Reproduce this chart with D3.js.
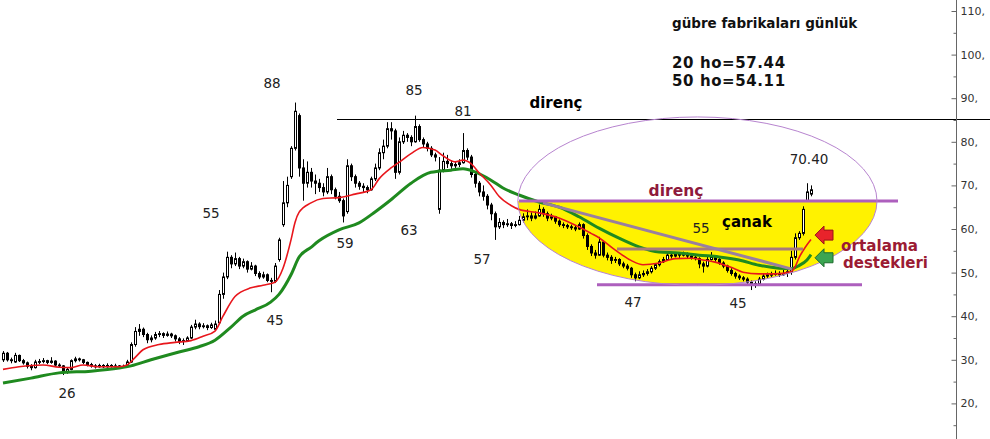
<!DOCTYPE html>
<html><head><meta charset="utf-8">
<script src="https://cdn.jsdelivr.net/npm/d3@7"></script>
<style>html,body{margin:0;padding:0;background:#fff;overflow:hidden}svg{display:block}</style>
</head><body><svg id="c" width="990" height="439"></svg>
<script>
// ---- data ----
const opens=[30.0,31.5,30.0,29.5,31.0,29.8,29.3,28.5,28.2,29.5,
29.6,29.8,29.4,29.7,28.8,28.6,27.3,27.8,29.8,30.2,
30.0,29.4,28.9,28.6,28.4,28.7,28.4,28.7,28.5,28.6,
28.3,28.5,29.5,33.5,36.5,37.0,35.8,34.6,35.0,35.8,
36.0,35.6,35.9,35.5,34.8,34.2,34.4,35.0,37.5,38.2,
37.6,37.8,37.4,37.0,38.5,45.0,49.0,53.5,52.0,53.2,
51.5,52.5,50.8,51.5,49.8,49.0,49.5,48.2,48.0,53.0,
61.0,66.0,72.0,78.5,86.0,74.0,70.5,73.0,71.0,70.5,
69.5,68.5,72.0,69.0,67.5,66.5,64.0,74.5,72.0,70.5,
69.8,69.5,69.0,71.5,74.0,77.5,79.0,83.0,82.5,73.0,
80.0,81.5,81.0,80.0,83.5,80.5,79.5,78.5,77.0,64.5,
73.5,75.5,75.0,74.5,74.8,75.2,78.0,76.5,72.5,70.5,
68.5,67.5,65.5,63.5,60.5,61.5,61.0,61.2,60.8,61.0,
62.0,62.8,63.0,62.5,63.0,64.5,63.5,62.5,62.8,61.8,
61.0,60.8,60.5,60.3,60.0,61.0,58.5,56.0,54.5,54.0,
57.0,54.0,53.5,52.8,53.0,52.0,51.5,51.0,49.5,48.8,
49.5,49.8,50.2,51.0,51.8,52.5,53.0,54.0,53.8,54.2,
54.0,54.3,53.8,53.5,53.2,52.0,51.5,53.0,53.5,53.0,
52.2,51.5,50.5,49.8,49.2,48.8,48.5,47.8,47.2,47.5,
48.5,49.2,49.5,49.6,49.8,49.5,49.8,50.2,53.5,58.0,
59.0,66.5,68.0];
const highs=[32.0,31.8,30.5,31.6,31.2,30.2,29.6,29.0,30.0,30.2,
30.4,30.0,30.6,29.9,29.2,28.8,28.2,30.1,30.7,30.5,
30.2,29.6,29.3,29.0,29.1,29.0,29.2,29.0,29.1,28.8,
28.9,30.0,34.0,37.5,38.2,37.4,36.2,35.6,36.4,36.6,
36.3,36.5,36.2,35.8,35.2,34.9,35.4,38.0,39.2,38.6,
38.4,38.1,38.5,39.0,46.0,50.0,54.8,54.0,54.6,53.6,
53.2,52.8,52.4,51.8,50.3,50.2,49.8,48.8,52.2,58.0,
71.0,72.0,79.0,89.0,86.5,76.0,75.5,74.0,72.5,71.5,
70.5,74.0,72.5,69.5,68.5,67.0,76.0,75.0,72.5,71.0,
70.5,70.0,72.0,75.0,78.5,80.5,84.5,84.5,83.0,81.0,
82.5,82.0,81.5,86.0,84.0,81.0,80.0,79.0,77.5,76.5,
77.5,77.0,75.8,75.5,76.0,82.0,78.5,77.0,73.0,71.0,
70.0,68.0,66.0,64.0,62.5,62.0,62.3,61.6,61.8,63.0,
63.6,64.5,63.8,64.0,65.6,65.0,64.0,63.5,63.0,62.2,
61.5,61.2,61.0,60.8,61.5,61.3,59.0,56.5,55.2,58.2,
57.3,54.6,54.0,53.6,53.3,52.5,52.0,51.3,50.0,50.3,
50.5,50.8,51.5,52.2,53.0,53.6,54.7,54.5,54.7,54.5,
54.8,54.6,54.2,54.0,53.5,52.5,53.6,54.7,53.8,53.4,
52.6,51.8,51.0,50.2,49.6,49.2,48.9,48.2,48.0,49.0,
49.7,50.0,50.2,50.5,50.3,50.6,50.8,55.0,59.0,59.5,
65.2,70.5,70.0];
const lows=[29.5,29.6,29.2,29.3,29.5,28.9,28.0,27.6,28.0,29.0,
29.2,29.0,29.1,28.5,28.2,26.5,26.8,27.6,29.4,29.6,
29.0,28.5,28.2,28.0,28.2,28.1,28.2,28.2,28.3,28.0,
28.1,28.3,29.3,33.0,35.5,35.2,33.8,34.0,34.6,35.2,
35.0,35.3,35.0,34.2,33.6,33.4,34.1,34.8,37.0,37.0,
37.2,36.8,37.1,36.8,38.2,44.0,48.5,51.0,51.5,50.8,
51.0,50.0,50.5,49.2,48.5,48.6,47.8,45.5,47.6,52.5,
60.5,65.0,71.5,78.0,72.0,66.5,69.5,69.5,68.0,68.5,
67.5,68.0,68.0,66.8,66.0,61.5,63.5,71.0,69.5,69.0,
68.5,68.2,68.8,71.0,73.5,76.0,78.5,80.5,71.5,72.5,
79.5,80.0,79.0,79.8,80.0,78.8,77.8,76.5,75.5,63.5,
73.0,74.0,73.8,74.0,74.2,75.0,75.8,71.8,69.5,67.5,
66.5,64.5,62.0,57.5,60.0,60.2,60.5,60.0,60.4,60.8,
61.5,62.0,61.8,62.2,62.8,62.8,61.8,62.0,61.2,60.5,
60.2,60.0,59.8,59.5,59.8,57.8,55.2,53.8,53.2,53.8,
53.5,52.8,52.0,52.2,51.5,51.0,50.5,48.8,48.0,48.5,
49.0,49.3,49.8,50.6,51.4,52.2,52.8,53.2,53.5,53.4,
53.7,53.3,53.0,52.8,51.0,50.0,51.2,52.8,52.5,51.8,
51.0,50.0,49.3,48.6,48.3,48.0,47.2,46.0,46.5,47.2,
48.2,48.8,49.0,49.3,49.0,49.3,49.0,49.5,53.0,57.5,
58.5,66.3,67.5];
const closes=[31.5,30.0,29.8,31.0,29.8,29.3,28.5,28.2,29.5,29.6,
29.8,29.4,29.7,28.8,28.6,27.3,27.8,29.8,30.2,30.0,
29.4,28.9,28.6,28.4,28.7,28.4,28.7,28.5,28.6,28.3,
28.5,29.5,33.5,36.5,37.0,35.8,34.6,35.0,35.8,36.0,
35.6,35.9,35.5,34.8,34.2,34.4,35.0,37.5,38.2,37.6,
37.8,37.4,38.0,38.2,45.0,49.0,53.5,52.0,53.2,51.5,
52.5,50.8,51.5,49.8,49.0,49.5,48.2,48.0,51.5,57.5,
66.0,70.0,78.5,87.0,74.0,70.5,73.0,71.0,70.5,69.5,
68.5,72.0,69.0,67.5,66.5,63.0,74.5,72.0,70.5,69.8,
69.5,69.0,71.5,74.0,77.5,79.0,83.0,82.5,73.0,80.0,
81.5,81.0,80.0,83.5,80.5,79.5,78.5,77.0,76.5,73.5,
75.5,75.0,74.5,74.8,75.2,78.0,76.5,72.5,70.5,68.5,
67.5,65.5,63.5,60.5,61.5,61.0,61.2,60.8,61.0,62.0,
62.8,63.0,62.5,63.0,64.5,63.5,62.5,62.8,61.8,61.0,
60.8,60.5,60.3,60.0,61.0,58.5,56.0,54.5,54.0,57.0,
54.0,53.5,52.8,53.0,52.0,51.5,51.0,49.5,48.8,49.5,
49.8,50.2,51.0,51.8,52.5,53.0,54.0,53.8,54.2,54.0,
54.3,53.8,53.5,53.2,52.0,51.5,53.0,53.5,53.0,52.2,
51.5,50.5,49.8,49.2,48.8,48.5,47.8,47.2,47.5,48.5,
49.2,49.5,49.6,49.8,49.5,49.8,50.2,53.5,58.0,59.0,
64.5,68.5,69.0];

// 20-bar average (red) read at bar positions
const ma20Idx=[0,4,10,14,17,20,24,29,31,33,35,39,43,47,50,53,55,58,62,65,68,70,72,73,74,77,80,84,88,92,94,97,99,102,105,108,110,113,115,117,119,122,124,127,129,134,139,143,147,149,153,157,160,164,168,172,175,178,182,185,189,193,197,198,199,200,201,202];
const ma20Val=[27.8,28.4,28.8,28.3,28.2,28.8,28.4,28.4,28.8,30.5,32.3,33.5,34.0,34.4,35.4,36.6,40.0,44.5,46.5,47.1,47.8,51.0,57.5,61.5,63.8,66.0,67.0,67.2,68.0,69.0,71.5,74.0,75.3,77.3,78.7,78.1,76.8,75.4,75.8,75.0,72.9,70.0,67.5,65.4,64.5,63.7,62.5,60.9,59.0,58.0,55.2,52.8,51.8,52.2,53.2,53.3,52.9,52.4,51.2,50.1,49.7,49.7,50.2,51.3,53.4,55.0,56.4,57.6];
// 50-bar average (green)
const ma50Idx=[0,7,14,22,29,32,37,44,49,53,57,60,63,67,69,72,74,77,79,84,89,93,97,102,107,112,115,118,122,125,129,134,139,144,149,154,159,164,169,174,179,184,189,194,197,199,201,202];
const ma50Val=[24.7,25.8,27.0,27.4,28.1,28.6,30.0,31.8,33.0,34.5,37.5,40.0,41.4,43.3,45.0,49.5,53.5,55.8,57.3,59.8,61.4,63.9,66.7,70.5,73.0,73.5,73.8,73.1,71.2,69.4,67.8,66.2,65.0,62.8,60.2,57.9,55.9,54.7,54.5,54.0,53.6,52.9,51.7,51.0,50.9,51.6,52.9,54.1];

const yTicks=[20,30,40,50,60,70,80,90,100,110];
const yMinor=[15,25,35,45,55,65,75,85,95,105];

// annotation labels: [text, barIndex, value]
const peakLabels=[["88",67.25,93.5],["85",102.75,91.9],["81",115,87.1],["55",52,63.7],["59",85.5,56.8],["63",101.5,59.8],["57",119.75,53.1],["45",68,39.1],["26",16,22.4],["47",157.5,43.3],["45",183.75,43.0],["55",174.5,60.2],["70.40",201.5,76.1]];
const resistanceTop=85.2;       // black line
const bowlTop=66.4;             // purple "direnç"
const bowlBottom=47.2;          // purple support
const bowlMid=55.4;             // brown line
const trendFrom=[135,66.0], trendTo=[197.25,50.8];
const ellipseC=[173.6,66.4], ellipseRxBars=44.9, ellipseTopVal=85.7;

// ---- drawing ----
const W=990,H=439,N=closes.length;
const svg=d3.select('#c');
svg.append('rect').attr('width',W).attr('height',H).attr('fill','#fff');
const x=d3.scaleLinear().domain([0,N-1]).range([3,811]);
const y=d3.scaleLinear().domain([20,110]).range([403.4,11]);

// yellow bowl (lower half of ellipse)
const ecx=x(ellipseC[0]), ecy=y(ellipseC[1]), erx=x(ellipseRxBars)-x(0), ery=y(ellipseC[1])-y(ellipseTopVal);
svg.append('path').attr('d',`M${ecx-erx},${ecy} A${erx},${ery} 0 0,0 ${ecx+erx},${ecy} Z`).attr('fill','#fff200');

// candles
const cg=svg.append('g');
const bars=d3.range(N).map(i=>({i,o:opens[i],h:Math.max(highs[i],opens[i],closes[i]),l:Math.min(lows[i],opens[i],closes[i]),c:closes[i]}));
cg.selectAll('line').data(bars).join('line')
 .attr('x1',d=>Math.round(x(d.i))+0.5).attr('x2',d=>Math.round(x(d.i))+0.5)
 .attr('y1',d=>y(d.h)).attr('y2',d=>y(d.l)).attr('stroke','#000').attr('stroke-width',1);
cg.selectAll('rect').data(bars).join('rect')
 .attr('x',d=>Math.round(x(d.i))-0.5).attr('width',2)
 .attr('y',d=>y(Math.max(d.o,d.c))).attr('height',d=>Math.max(0.8,Math.abs(y(d.o)-y(d.c))))
 .attr('fill',d=>d.c>=d.o?'#fff':'#000').attr('stroke','#000').attr('stroke-width',1);

// moving averages
const line=d3.line().x(d=>x(d[0])).y(d=>y(d[1])).curve(d3.curveMonotoneX);
svg.append('path').attr('d',line(ma50Idx.map((v,k)=>[v,ma50Val[k]]))).attr('fill','none').attr('stroke','#1f8a1f').attr('stroke-width',3);
svg.append('path').attr('d',line(ma20Idx.map((v,k)=>[v,ma20Val[k]]))).attr('fill','none').attr('stroke','#e8161c').attr('stroke-width',1.6);

// resistance lines
svg.append('line').attr('x1',x(83.5)).attr('x2',W).attr('y1',Math.round(y(resistanceTop))+0.5).attr('y2',Math.round(y(resistanceTop))+0.5).attr('stroke','#000').attr('stroke-width',1);
svg.append('line').attr('x1',x(153.5)).attr('x2',x(200)).attr('y1',y(bowlMid)).attr('y2',y(bowlMid)).attr('stroke','#a87a7a').attr('stroke-width',3);
svg.append('line').attr('x1',x(trendFrom[0])).attr('y1',y(trendFrom[1])).attr('x2',x(trendTo[0])).attr('y2',y(trendTo[1])).attr('stroke','#9a7f9f').attr('stroke-width',3);
svg.append('line').attr('x1',x(129)).attr('x2',x(223.75)).attr('y1',y(bowlTop)).attr('y2',y(bowlTop)).attr('stroke','#ad5fbd').attr('stroke-width',3);
svg.append('line').attr('x1',x(148.5)).attr('x2',x(214.75)).attr('y1',y(bowlBottom)).attr('y2',y(bowlBottom)).attr('stroke','#ad5fbd').attr('stroke-width',3);
svg.append('ellipse').attr('cx',ecx).attr('cy',ecy).attr('rx',erx).attr('ry',ery).attr('fill','none').attr('stroke','#b784cf').attr('stroke-width',1);

// arrows
function arrow(tipI,val,fill,edge){
  const tx=x(tipI), ty=y(val);
  svg.append('path').attr('d',`M${tx},${ty} L${tx+9},${ty-9} L${tx+9},${ty-5} L${tx+18},${ty-5} L${tx+18},${ty+5} L${tx+9},${ty+5} L${tx+9},${ty+9} Z`)
   .attr('fill',fill).attr('stroke',edge).attr('stroke-width',1);
}
arrow(203,58.6,'#e8232b','#9a1418');
arrow(203,53.4,'#3ba552','#1d6b2c');

// axis
const axisX=956;
svg.append('line').attr('x1',axisX+0.5).attr('x2',axisX+0.5).attr('y1',0).attr('y2',H).attr('stroke','#666');
const ag=svg.append('g').attr('transform',`translate(${axisX+0.5},0)`);
ag.call(d3.axisRight(y).tickValues(yTicks).tickSizeInner(-5).tickSizeOuter(0).tickPadding(4).tickFormat(d=>d+','));
ag.select('.domain').remove();
ag.selectAll('line').attr('stroke','#666');
ag.selectAll('text').attr('font-family','DejaVu Sans').attr('font-size',11).attr('fill','#333');
const mg=svg.append('g').attr('transform',`translate(${axisX+0.5},0)`);
mg.call(d3.axisRight(y).tickValues(yMinor).tickSizeInner(-3).tickSizeOuter(0).tickFormat(''));
mg.select('.domain').remove();
mg.selectAll('line').attr('stroke','#666');

// labels
const tg=svg.append('g').attr('font-family','DejaVu Sans');
tg.selectAll('text.pk').data(peakLabels).join('text').attr('class','pk')
 .attr('x',d=>x(d[1])).attr('y',d=>y(d[2])).attr('dy','0.36em').attr('text-anchor','middle')
 .attr('font-size',13.5).attr('fill','#222').text(d=>d[0]);
tg.append('text').attr('x',x(138.25)).attr('y',y(88.9)).attr('dy','0.36em').attr('text-anchor','middle').attr('font-size',15).attr('font-weight','bold').attr('fill','#000').text('direnç');
tg.append('text').attr('x',x(168.25)).attr('y',y(68.9)).attr('dy','0.36em').attr('text-anchor','middle').attr('font-size',15.5).attr('font-weight','bold').attr('fill','#8e1a3c').text('direnç');
tg.append('text').attr('x',x(186)).attr('y',y(61.6)).attr('dy','0.36em').attr('text-anchor','middle').attr('font-size',15).attr('font-weight','bold').attr('fill','#000').text('çanak');
tg.append('text').attr('x',x(209.5)).attr('y',y(56.3)).attr('dy','0.36em').attr('font-size',15.2).attr('font-weight','bold').attr('fill','#9b1b33').text('ortalama');
tg.append('text').attr('x',x(210)).attr('y',y(52.2)).attr('dy','0.36em').attr('font-size',15).attr('font-weight','bold').attr('fill','#9b1b33').text('destekleri');

// title block
tg.append('text').attr('x',672).attr('y',28).attr('font-size',13.5).attr('font-weight','bold').attr('fill','#111').text('gübre fabrikaları günlük');
tg.append('text').attr('x',672).attr('y',68).attr('font-size',15).attr('letter-spacing',0.6).attr('font-weight','bold').attr('fill','#111').text('20 ho=57.44');
tg.append('text').attr('x',672).attr('y',86).attr('font-size',15).attr('letter-spacing',0.6).attr('font-weight','bold').attr('fill','#111').text('50 ho=54.11');
</script>
</body></html>
